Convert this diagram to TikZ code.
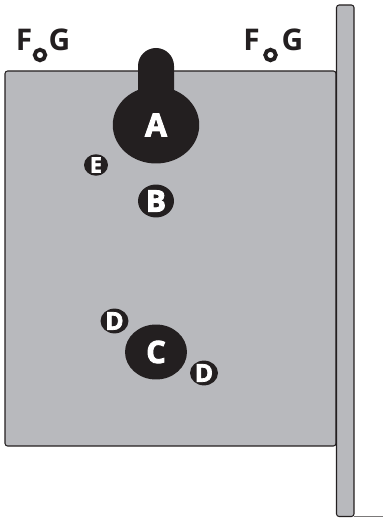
\documentclass[tikz,border=0pt]{standalone}
\usepackage{fontspec}
\setmainfont{Open Sans}
\newfontfamily\heavyfont{Open Sans}[BoldFeatures={FakeBold=3}]
\usetikzlibrary{shapes.geometric}
\definecolor{platefill}{HTML}{B8B9BD}
\definecolor{holefill}{HTML}{231F20}
\tikzset{
  plate/.style={draw=holefill,fill=platefill,line width=0.6pt,rounded corners=1.5pt},
  hole/.style={ellipse,fill=holefill,text=white,inner sep=0pt},
  screw/.style={draw=holefill,fill=white,line width=2.2pt,circle,inner sep=0pt,minimum size=6pt},
  letter/.style={text=holefill,font=\fontsize{17}{17}\selectfont\bfseries,inner sep=0pt},
}
\begin{document}
\begin{tikzpicture}[x=0.02cm,y=-0.02cm]
    \useasboundingbox (0,0) rectangle (383,520);
    % plate and side bar
    \draw[plate] (5,71) rectangle (336,446);
    \draw[plate] (336.5,5) rectangle (354,516.5);
    \draw[holefill!60,line width=0.4pt] (354,516.5)--(383,516.5);
    % keyhole
    \fill[holefill] (138,110)--(138,66) arc (180:360:18)--(174,110)--cycle;
    \node[hole,minimum width=1.73cm,minimum height=1.54cm,font=\heavyfont\fontsize{18}{18}\selectfont\bfseries] (holeA) at (156,125) {A};
    % holes
    \node[hole,minimum width=0.72cm,minimum height=0.66cm,font=\heavyfont\fontsize{17}{17}\selectfont\bfseries] (holeB) at (156,201) {B};
    \node[hole,minimum width=1.24cm,minimum height=1.10cm,font=\heavyfont\fontsize{17.5}{17.5}\selectfont\bfseries] (holeC) at (156,352) {C};
    \node[hole,minimum width=0.56cm,minimum height=0.49cm,font=\heavyfont\fontsize{14}{14}\selectfont\bfseries] (holeDa) at (114.5,321) {D};
    \node[hole,minimum width=0.56cm,minimum height=0.49cm,font=\heavyfont\fontsize{14}{14}\selectfont\bfseries] (holeDb) at (204,373) {D};
    \node[hole,minimum width=0.48cm,minimum height=0.43cm,font=\heavyfont\fontsize{12}{12}\selectfont\bfseries] (holeE) at (96,165) {E};
    % screws with their letters
    \node[screw] (screwL) at (40,55) {};
    \node[letter] (letterFL) at (24,40) {F};
    \node[letter] (letterGL) at (59.5,40) {G};
    \node[screw] (screwR) at (270.5,55) {};
    \node[letter] (letterFR) at (251.5,40) {F};
    \node[letter] (letterGR) at (292.5,40) {G};
\end{tikzpicture}
\end{document}
